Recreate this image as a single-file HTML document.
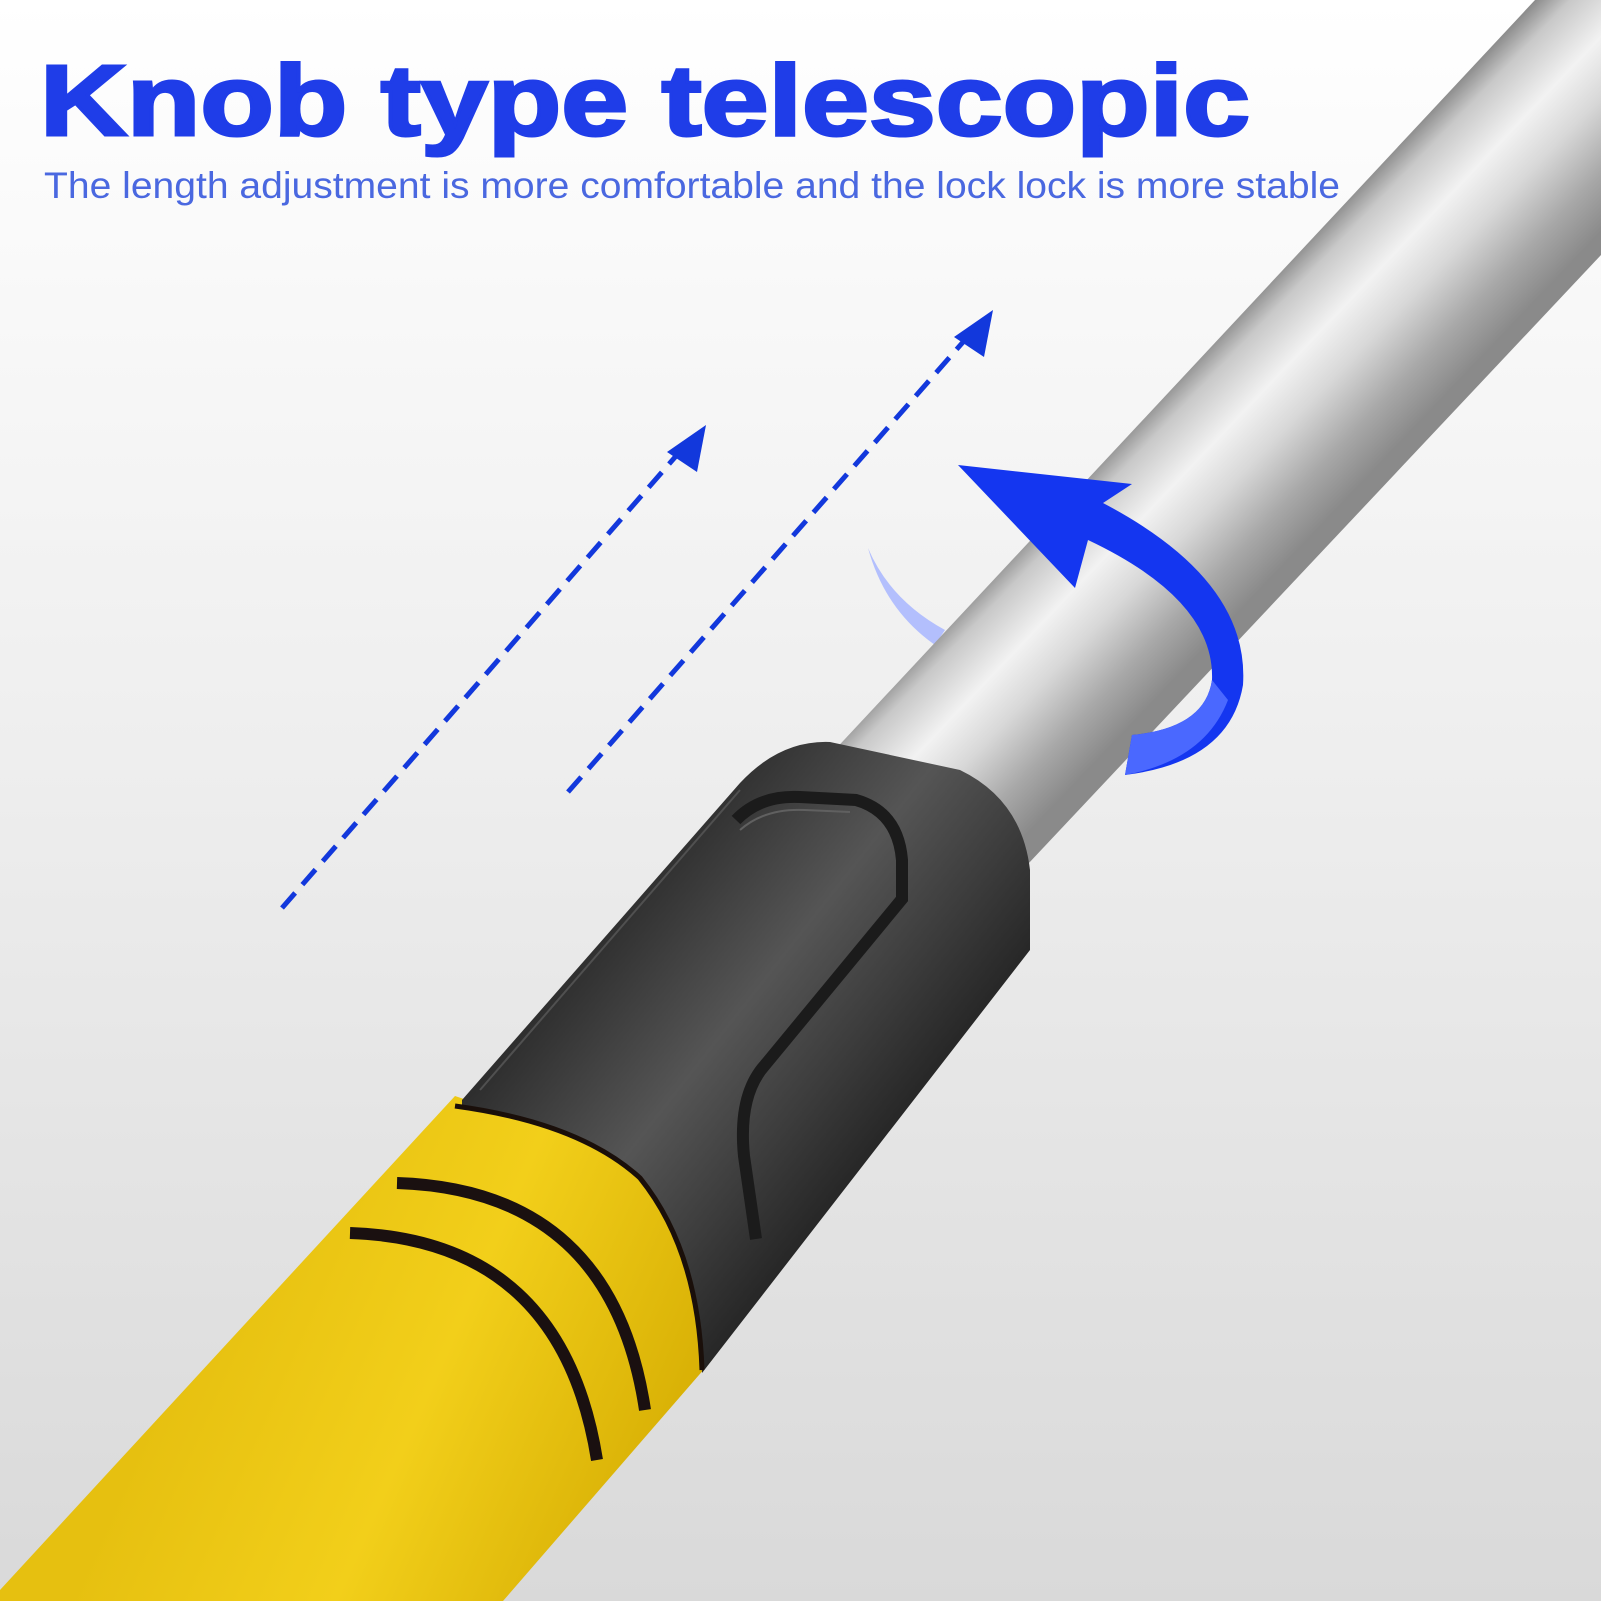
<!DOCTYPE html>
<html><head><meta charset="utf-8"><style>html,body{margin:0;padding:0}body{width:1601px;height:1601px;overflow:hidden}</style></head>
<body>
<svg width="1601" height="1601" viewBox="0 0 1601 1601" xmlns="http://www.w3.org/2000/svg" style="display:block">
<defs>
<linearGradient id="bg" x1="0" y1="0" x2="0" y2="1">
<stop offset="0" stop-color="#ffffff"/><stop offset="0.5" stop-color="#ededed"/><stop offset="1" stop-color="#d9d9d9"/>
</linearGradient>
<linearGradient id="metal" gradientUnits="userSpaceOnUse" x1="1204" y1="348" x2="1354" y2="491">
<stop offset="0" stop-color="#8c8c8c"/><stop offset="0.12" stop-color="#c8c8c8"/><stop offset="0.35" stop-color="#f2f2f2"/><stop offset="0.55" stop-color="#d8d8d8"/><stop offset="0.8" stop-color="#a8a8a8"/><stop offset="1" stop-color="#8a8a8a"/>
</linearGradient>
<linearGradient id="collar" gradientUnits="userSpaceOnUse" x1="600" y1="930" x2="880" y2="1150">
<stop offset="0" stop-color="#2e2e2e"/><stop offset="0.45" stop-color="#555"/><stop offset="0.75" stop-color="#3c3c3c"/><stop offset="1" stop-color="#262626"/>
</linearGradient>
<linearGradient id="yel" gradientUnits="userSpaceOnUse" x1="200" y1="1300" x2="650" y2="1500">
<stop offset="0" stop-color="#e6c010"/><stop offset="0.5" stop-color="#f2cf1a"/><stop offset="1" stop-color="#d8b005"/>
</linearGradient>
</defs>
<rect width="1601" height="1601" fill="url(#bg)"/>
<path d="M868,548 Q885,610 935,645 L945,630 Q890,600 868,548Z" fill="#a8b6ff" opacity="0.85"/>
<polygon points="1535,0 1601,0 1601,255 900,1000 760,830" fill="url(#metal)"/>
<!-- grip -->
<path d="M455,1096 L760,1200 L712,1360 L503,1601 L0,1601 L0,1590 Z" fill="url(#yel)"/>
<path d="M397,1183 Q612,1190 645,1410" fill="none" stroke="#1a1010" stroke-width="12"/>
<path d="M350,1233 Q562,1240 597,1460" fill="none" stroke="#1a1010" stroke-width="12"/>
<!-- collar -->
<path d="M462,1100 L740,783 Q780,740 830,742 L960,770 Q1022,800 1030,870 L1030,950 L702,1373 Q700,1250 640,1180 Q580,1125 462,1108 Z" fill="url(#collar)"/>
<path d="M455,1106 Q580,1123 640,1178 Q698,1250 702,1370" fill="none" stroke="#1a0f0a" stroke-width="5"/>
<path d="M740,790 L480,1090" stroke="#505050" stroke-width="2" fill="none"/>
<path d="M736,820 Q760,795 800,797 L856,800 Q898,812 902,860 L902,899 L765,1065 Q738,1095 744,1156 L756,1239" fill="none" stroke="#1b1b1b" stroke-width="12"/>
<path d="M740,830 Q765,808 805,810 L850,812" fill="none" stroke="#606060" stroke-width="2"/>
<!-- rotation arrow front -->
<path d="M958,465 L1132,484 L1103,503 Q1250,580 1243,685 Q1230,762 1125,775 L1132,735 Q1205,728 1212,680 Q1215,600 1088,540 L1075,588 Z" fill="#1436f0"/>
<path d="M1125,775 Q1205,760 1228,700 L1212,680 Q1205,728 1132,735 Z" fill="#4a68ff"/>
<g stroke="#1238dc" stroke-width="5" stroke-dasharray="20,11" fill="none">
<line x1="282" y1="908" x2="690" y2="440"/>
<line x1="568" y1="792" x2="978" y2="325"/>
</g>
<polygon points="706,425 667,452 697,472" fill="#1238dc"/>
<polygon points="993,310 954,337 984,357" fill="#1238dc"/>
<text x="40" y="135" font-family="Liberation Sans, Arial, sans-serif" font-weight="bold" font-size="100" fill="#1f3de8" textLength="1210" lengthAdjust="spacingAndGlyphs" stroke="#1f3de8" stroke-width="3">Knob type telescopic</text>
<text x="44" y="198" font-family="Liberation Sans, Arial, sans-serif" font-size="37" fill="#4a68e0" textLength="1296" lengthAdjust="spacingAndGlyphs">The length adjustment is more comfortable and the lock lock is more stable</text>
</svg>
</body></html>
